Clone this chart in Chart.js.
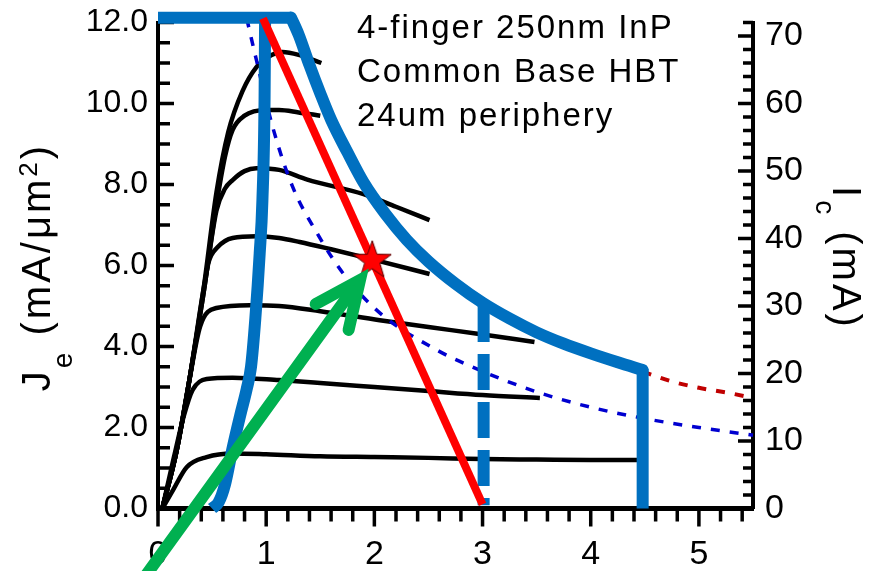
<!DOCTYPE html>
<html>
<head>
<meta charset="utf-8">
<script src="https://cdn.jsdelivr.net/npm/chart.js@4.4.1/dist/chart.umd.min.js"></script>
<style>
  html, body { margin: 0; padding: 0; background: #fff; }
</style>
</head>
<body>
<canvas id="ivChart" width="875" height="571"></canvas>
<script>
// tick labels
const xTicks = [0, 1, 2, 3, 4, 5];
const jeTicks = [0, 2, 4, 6, 8, 10, 12];
const icTicks = [0, 10, 20, 30, 40, 50, 60, 70];
const noteLines = ["4-finger 250nm InP", "Common Base HBT", "24um periphery"];

// Je (mA/um^2) vs V, one curve per emitter drive step
const ivCurve1 = [[0.04,0],[0.14,0.46],[0.265,1.02],[0.45,1.27],[0.69,1.36],[1.0,1.34],[1.5,1.29],[2.0,1.27],[2.5,1.25],[3.0,1.22],[3.5,1.21],[4.0,1.2],[4.45,1.2]];
const ivCurve2 = [[0.04,0],[0.15,1.3],[0.24,2.3],[0.32,2.93],[0.45,3.2],[0.69,3.23],[1.12,3.17],[1.5,3.1],[2.0,3.0],[2.5,2.9],[3.0,2.8],[3.53,2.73]];
const ivCurve3 = [[0.04,0],[0.17,1.4],[0.29,3.17],[0.39,4.5],[0.54,4.95],[0.85,5.02],[1.12,5.0],[1.5,4.87],[2.05,4.65],[2.5,4.48],[2.97,4.31],[3.48,4.11]];
const ivCurve4 = [[0.04,0],[0.17,1.4],[0.29,3.17],[0.42,5.4],[0.47,6.1],[0.55,6.45],[0.69,6.68],[0.91,6.72],[1.12,6.68],[1.31,6.58],[1.6,6.4],[2.0,6.14],[2.51,5.79]];
const ivCurve5 = [[0.04,0],[0.17,1.4],[0.29,3.17],[0.42,5.3],[0.54,7.35],[0.62,7.9],[0.69,8.11],[0.8,8.33],[0.91,8.4],[1.12,8.36],[1.38,8.12],[1.9,7.76],[2.2,7.45],[2.51,7.12]];
const ivCurve6 = [[0.04,0],[0.17,1.4],[0.29,3.17],[0.42,5.3],[0.54,7.5],[0.62,8.7],[0.69,9.35],[0.8,9.7],[1.0,9.84],[1.12,9.84],[1.3,9.78],[1.5,9.7]];
const ivCurve7 = [[0.04,0],[0.17,1.4],[0.29,3.17],[0.42,5.4],[0.54,7.8],[0.65,9.3],[0.78,10.3],[0.91,10.9],[1.05,11.2],[1.15,11.27],[1.3,11.2],[1.51,11.0]];

// safe operating area boundary
const soaLeft = [[0.5,0],[0.56,0.15],[0.62,0.6],[0.69,1.5],[0.76,2.3],[0.82,2.95],[0.86,3.5],[0.9,4.7],[0.94,6.3],[0.965,7.6],[0.985,10.1],[0.99,12.12]];
const soaBar = [[0,12.12],[1.23,12.12]];
const soaTop = [[1.23,12.12],[1.3,11.7],[1.4,10.95],[1.5,10.25],[1.6,9.6],[1.75,8.8],[1.9,8.05],[2.1,7.28],[2.3,6.63],[2.5,6.1],[2.75,5.55],[3.0,5.08],[3.25,4.69],[3.5,4.35],[3.75,4.07],[4.0,3.83],[4.25,3.61],[4.48,3.42]];
const soaBreakdown = [[4.48,3.45],[4.48,0]];
const soaDashed = [[3.01,5.0],[3.01,0.08]];
const powerExtension = [[4.48,3.38],[4.76,3.13],[5.0,2.98],[5.28,2.85],[5.5,2.73]];
const powerLimit = [[0.82,12.1],[0.91,11.07],[1.06,9.42],[1.245,7.94],[1.47,6.8],[1.71,5.81],[2.05,4.83],[2.58,3.91],[2.97,3.42],[3.5,2.88],[4.0,2.5],[4.5,2.22],[5.0,2.0],[5.5,1.81]];

const loadLine = [[0.97,12.1],[3.0,0.1]];
const biasPoint = [[1.98,6.12]];
const arrowShaft = [[-0.177,-1.89],[1.79,5.37]];
const arrowHead = [[1.458,5.05],[1.867,5.64],[1.762,4.41]];

const FONT = '"Liberation Sans", Arial, Helvetica, sans-serif';
Chart.defaults.font.family = FONT;
Chart.defaults.color = '#000';

const toPts = (arr) => arr.map(([x, y]) => ({ x, y }));

function lineSet(data, color, width, order, extra) {
  return Object.assign({
    type: 'line',
    data: toPts(data),
    borderColor: color,
    backgroundColor: color,
    borderWidth: width,
    pointRadius: 0,
    fill: false,
    clip: false,
    capBezierPoints: false,
    order: order,
  }, extra || {});
}

function makeStar(r) {
  const s = Math.ceil(r * 2 + 4);
  const c = document.createElement('canvas');
  c.width = s; c.height = s;
  const g = c.getContext('2d');
  g.translate(s / 2, s / 2);
  g.beginPath();
  for (let i = 0; i < 10; i++) {
    const rad = i % 2 === 0 ? r : r * 0.4;
    const a = -Math.PI / 2 + i * Math.PI / 5;
    g.lineTo(rad * Math.cos(a), rad * Math.sin(a));
  }
  g.closePath();
  g.fillStyle = '#ff0000';
  g.fill();
  g.strokeStyle = '#5a0000';
  g.lineWidth = 1;
  g.stroke();
  return c;
}

const BLUE = '#0070c0';
const smooth = { cubicInterpolationMode: 'monotone' };

const datasets = [
  lineSet(ivCurve1, '#000', 4.5, 7, smooth),
  lineSet(ivCurve2, '#000', 4.5, 7, smooth),
  lineSet(ivCurve3, '#000', 4.5, 7, smooth),
  lineSet(ivCurve4, '#000', 4.5, 7, smooth),
  lineSet(ivCurve5, '#000', 4.5, 7, smooth),
  lineSet(ivCurve6, '#000', 4.5, 7, smooth),
  lineSet(ivCurve7, '#000', 4.5, 7, smooth),
  lineSet(powerLimit, '#0000d0', 3.5, 6, Object.assign({ borderDash: [9, 10] }, smooth)),
  lineSet(powerExtension, '#c00000', 4, 5, Object.assign({ borderDash: [9, 10] }, smooth)),
  lineSet(soaLeft, BLUE, 12, 4, smooth),
  lineSet(soaBar, BLUE, 12, 4),
  lineSet(soaTop, BLUE, 12, 4, Object.assign({ borderCapStyle: 'round' }, smooth)),
  lineSet(soaBreakdown, BLUE, 12, 3),
  lineSet(soaDashed, BLUE, 12, 3, { borderDash: [36, 12] }),
  lineSet(loadLine, '#ff0000', 8, 2),
  {
    type: 'scatter',
    data: toPts(biasPoint),
    pointStyle: makeStar(20),
    pointRadius: 20,
    clip: false,
    order: 1,
  },
  lineSet(arrowShaft, '#00b050', 12, 0, { borderCapStyle: 'round' }),
  lineSet(arrowHead, '#00b050', 12, 0, { borderCapStyle: 'round', borderJoinStyle: 'miter' }),
];

const axisTicks = {
  id: 'axisTicks',
  beforeDatasetsDraw(chart) {
    const c = chart.ctx;
    const a = chart.chartArea;
    const xs = chart.scales.x, ys = chart.scales.y, rs = chart.scales.y1;
    c.save();
    c.strokeStyle = '#000';
    c.lineWidth = 3.5;
    c.beginPath();
    for (let k = 0; k <= 24; k++) {
      const py = ys.getPixelForValue(k * 0.5);
      c.moveTo(a.left, py);
      c.lineTo(a.left + (k % 4 === 0 ? 16 : 12), py);
    }
    for (let k = 0; k <= 36; k++) {
      const py = rs.getPixelForValue(k * 2);
      c.moveTo(a.right, py);
      c.lineTo(a.right - (k % 5 === 0 ? 15 : 10), py);
    }
    for (let k = 0; k <= 27; k++) {
      const px = xs.getPixelForValue(k * 0.2);
      c.moveTo(px, a.bottom);
      c.lineTo(px, a.bottom + (k % 5 === 0 ? 18 : 13));
    }
    c.stroke();
    c.restore();
  }
};

// text with sub/superscripts, rotated about its centre
function drawRich(c, parts, cx, cy, angle, spacing) {
  c.save();
  c.translate(cx, cy);
  c.rotate(angle);
  c.textBaseline = 'alphabetic';
  c.textAlign = 'left';
  if ('letterSpacing' in c) c.letterSpacing = spacing + 'px';
  let total = 0;
  parts.forEach(p => { c.font = p.s + 'px ' + FONT; total += c.measureText(p.t).width; });
  let x = -total / 2;
  parts.forEach(p => {
    c.font = p.s + 'px ' + FONT;
    c.fillText(p.t, x, p.dy || 0);
    x += c.measureText(p.t).width;
  });
  c.restore();
}

const textLayer = {
  id: 'textLayer',
  afterDraw(chart) {
    const c = chart.ctx;
    c.save();
    c.fillStyle = '#000';
    c.font = '33px ' + FONT;
    c.textBaseline = 'alphabetic';
    if ('letterSpacing' in c) c.letterSpacing = '2px';
    noteLines.forEach((t, i) => c.fillText(t, 357, 38 + i * 44));
    if ('letterSpacing' in c) c.letterSpacing = '0px';
    drawRich(c, [
      { t: 'J', s: 40 }, { t: 'e', s: 28, dy: 22 }, { t: ' (mA/\u03bcm', s: 40 },
      { t: '2', s: 26, dy: -13 }, { t: ')', s: 40 }
    ], 50, 267, -Math.PI / 2, 3);
    drawRich(c, [
      { t: 'I', s: 40 }, { t: 'c', s: 28, dy: 17 }, { t: ' (mA)', s: 40 }
    ], 833, 258, Math.PI / 2, 3);
    c.restore();
  }
};

const noGrid = { display: false, drawTicks: false };
const axisBorder = (w) => ({ display: true, color: '#000', width: w });

new Chart(document.getElementById('ivChart'), {
  type: 'line',
  data: { datasets: datasets },
  options: {
    responsive: false,
    animation: false,
    events: [],
    layout: { padding: { top: 22.5, left: 0, right: 0, bottom: 0 } },
    plugins: { legend: { display: false }, tooltip: { enabled: false } },
    scales: {
      x: {
        type: 'linear', position: 'bottom', min: 0, max: 5.5,
        grid: noGrid, border: axisBorder(5),
        ticks: { font: { size: 34 }, color: '#000', padding: 26, maxRotation: 0 },
        afterBuildTicks: (s) => { s.ticks = xTicks.map(v => ({ value: v })); },
        afterFit: (s) => { s.height = 62.5; s.paddingLeft = 0; s.paddingRight = 0; },
      },
      y: {
        type: 'linear', position: 'left', min: 0, max: 12,
        grid: noGrid, border: axisBorder(4),
        ticks: { font: { size: 32 }, color: '#000', padding: 10, callback: (v) => Number(v).toFixed(1) },
        afterBuildTicks: (s) => { s.ticks = jeTicks.map(v => ({ value: v })); },
        afterFit: (s) => { s.width = 158; s.paddingTop = 0; s.paddingBottom = 0; },
      },
      y1: {
        type: 'linear', position: 'right', min: 0, max: 72,
        grid: noGrid, border: axisBorder(4),
        ticks: { font: { size: 34 }, color: '#000', padding: 12, callback: (v) => String(v) },
        afterBuildTicks: (s) => { s.ticks = icTicks.map(v => ({ value: v })); },
        afterFit: (s) => { s.width = 122; s.paddingTop = 0; s.paddingBottom = 0; },
      },
    },
  },
  plugins: [axisTicks, textLayer],
});
</script>
</body>
</html>
